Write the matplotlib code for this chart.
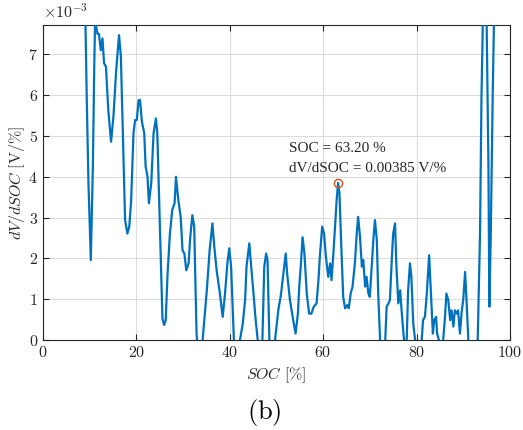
import numpy as np
import matplotlib
matplotlib.use("Agg")
import matplotlib.pyplot as plt

# dV/dSOC curve, values in units of 1e-3 V/%
soc = [8.6, 9.05, 9.4, 9.76, 10.26, 10.7, 11.0, 11.2, 11.4, 11.7, 12.0, 12.4, 12.76, 13.1,
       13.5, 14.0, 14.6, 15.1, 15.7, 16.3, 16.7, 17.3, 17.6, 18.1, 18.5, 18.9, 19.4, 19.75,
       20.1, 20.5, 20.8, 21.2, 21.7, 22.0, 22.4, 22.7, 23.2, 23.7, 24.2, 24.5, 25.1, 25.6,
       25.96, 26.3, 26.7, 27.2, 27.7, 28.2, 28.5, 29.0, 29.5, 29.9, 30.3, 30.7, 31.2, 31.5,
       32.0, 32.4, 32.9, 33.7, 34.2, 35.1, 35.7, 36.3, 36.7, 37.2, 37.9, 38.5, 39.0, 39.5,
       39.9, 40.3, 40.9, 41.5, 42.2, 42.8, 43.3, 43.6, 44.2, 44.6, 45.1, 45.5, 46.0, 46.5,
       47.0, 47.4, 47.8, 48.1, 48.5, 49.1, 49.7, 50.4, 51.0, 51.5, 52.0, 52.3, 52.9, 53.6,
       54.1, 54.6, 54.9, 55.3, 55.6, 56.0, 56.5, 57.0, 57.5, 58.0, 58.6, 59.0, 59.3, 59.8,
       60.2, 60.6, 61.1, 61.5, 61.8, 62.2, 62.5, 62.9, 63.2, 63.5, 63.8, 64.3, 64.7, 65.2,
       65.5, 65.9, 66.3, 66.8, 67.2, 67.5, 67.9, 68.3, 68.6, 69.0, 69.3, 69.7, 70.0, 70.4,
       70.8, 71.1, 71.5, 71.8, 72.2, 72.7, 73.3, 73.6, 74.0, 74.3, 74.7, 75.0, 75.4, 75.7,
       76.1, 76.5, 76.8, 77.2, 77.6, 77.9, 78.2, 78.6, 78.9, 79.3, 79.7, 80.4, 81.1, 81.4,
       81.8, 82.2, 82.5, 82.7, 83.1, 83.5, 83.8, 84.2, 84.4, 84.8, 85.3, 85.7, 86.1, 86.4,
       86.8, 87.2, 87.5, 87.9, 88.2, 88.6, 88.9, 89.3, 89.7, 90.0, 90.4, 90.7, 91.1, 92.1,
       93.1, 93.6, 93.9, 94.2, 94.6, 95.0, 95.4, 95.6, 95.9, 96.3, 96.6, 96.9]
dvdsoc = [12.0, 8.2, 5.88, 3.84, 1.96, 4.25, 6.7, 8.0, 7.68, 7.5, 7.5, 7.1, 7.39, 6.78,
          6.7, 5.64, 4.86, 5.47, 6.62, 7.47, 6.94, 4.25, 2.94, 2.61, 2.78, 3.43, 5.07, 5.39,
          5.39, 5.88, 5.88, 5.35, 5.07, 4.25, 4.0, 3.35, 3.84, 5.07, 5.43, 5.07, 2.61, 0.53,
          0.37, 0.49, 1.63, 2.61, 3.19, 3.35, 4.0, 3.43, 3.02, 2.2, 2.12, 1.71, 1.88, 2.45,
          3.06, 2.78, 0.16, -0.9, 0.0, 1.22, 2.2, 2.86, 2.29, 1.71, 1.14, 0.57, 1.14, 1.88,
          2.25, 1.8, 0.0, -0.9, 0.0, 0.41, 0.98, 1.8, 2.37, 1.8, 1.14, 0.57, 0.0, -0.8,
          0.0, 1.8, 2.12, 1.96, 0.0, -0.9, 0.0, 0.73, 1.14, 1.63, 2.12, 1.63, 0.98, 0.49,
          0.16, 0.65, 1.31, 1.96, 2.52, 2.12, 1.14, 0.65, 0.65, 0.82, 0.9, 1.47, 2.04, 2.78,
          2.61, 2.04, 1.55, 1.88, 1.47, 2.12, 2.7, 3.43, 3.85, 3.6, 2.61, 1.06, 0.78, 0.86,
          0.78, 1.14, 1.31, 1.88, 2.61, 3.02, 2.53, 1.8, 1.96, 1.31, 1.55, 1.14, 1.06, 1.8,
          2.53, 2.94, 2.45, 1.14, 0.0, -0.9, 0.0, 0.82, 0.9, 0.98, 1.96, 2.61, 2.86, 1.8,
          0.9, 1.22, 0.73, 0.16, -0.3, 0.0, 1.22, 1.88, 1.55, 0.41, 0.0, -0.9, 0.0, 0.49,
          0.57, 1.14, 1.71, 2.08, 1.14, 0.16, 0.49, 0.57, 0.16, 0.0, -0.5, 0.0, 0.57, 1.14,
          0.98, 0.49, 0.73, 0.33, 0.73, 0.65, 0.73, 0.16, 0.73, 0.98, 1.67, 0.98, 0.0, -1.0,
          0.0, 2.61, 5.88, 7.9, 10.0, 7.9, 4.25, 0.82, 2.6, 5.9, 7.9, 10.0]

peak_soc = 63.2
peak_val = 3.85
xticks = [0, 20, 40, 60, 80, 100]
yticks = [0, 1, 2, 3, 4, 5, 6, 7]

plt.rcParams['mathtext.fontset'] = 'cm'
plt.rcParams['font.family'] = 'serif'
plt.rcParams['font.serif'] = ['cmr10', 'DejaVu Serif']
plt.rcParams['axes.unicode_minus'] = False

fig = plt.figure(figsize=(5.23, 4.30), dpi=100)
ax = fig.add_axes([0.082, 0.209, 0.893, 0.733])

ax.plot(soc, dvdsoc, color='#0072BD', linewidth=1.6, zorder=3)
ax.plot([peak_soc], [peak_val], 'o', markersize=6, markerfacecolor='none',
        markeredgecolor='#D95319', markeredgewidth=1.0, zorder=4)

ax.text(peak_soc - 10.6, peak_val + 0.75, 'SOC = %.2f %%' % peak_soc,
        fontsize=11, family='Liberation Serif', color='#262626')
ax.text(peak_soc - 10.6, peak_val + 0.27, 'dV/dSOC = %.5f V/%%' % (peak_val / 1000),
        fontsize=11, family='Liberation Serif', color='#262626')

ax.set_xlim(0, 100)
ax.set_ylim(0, 7.72)
ax.set_xticks(xticks)
ax.set_yticks(yticks)
ax.set_xticklabels(['$%d$' % t for t in xticks])
ax.set_yticklabels(['$%d$' % t for t in yticks])
ax.tick_params(direction='in', top=True, right=True, labelsize=11.5,
               colors='#262626', length=4, width=0.8)
ax.grid(True, color='#dcdcdc', linewidth=0.8)
ax.set_axisbelow(True)
for s in ax.spines.values():
    s.set_color('#262626')
    s.set_linewidth(0.8)

ax.set_xlabel(r'$SOC\ [\%]$', fontsize=11.5, color='#262626', labelpad=4)
ax.set_ylabel(r'$dV/dSOC\ [\mathrm{V}/\%]$', fontsize=11.5, color='#262626', labelpad=1)
ax.text(0, 1.012, r'$\times10^{-3}$', transform=ax.transAxes, fontsize=11.5,
        color='#262626', va='bottom', ha='left')

fig.text(0.505, 0.04, r'$\mathrm{(b)}$', fontsize=19, ha='center', va='center')

fig.savefig('out.png', dpi=100)
